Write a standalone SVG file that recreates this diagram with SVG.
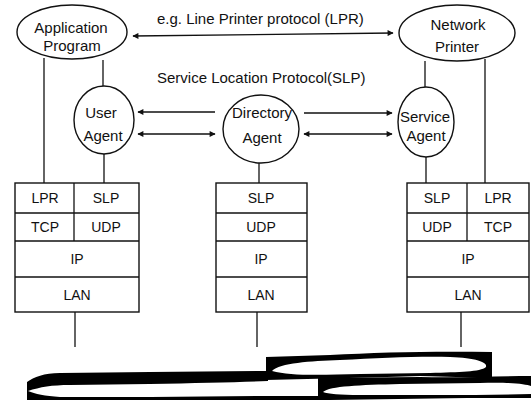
<svg xmlns="http://www.w3.org/2000/svg" width="531" height="412" viewBox="0 0 531 412">
  <defs>
    <marker id="ah" viewBox="0 0 10 10" refX="9" refY="5" markerWidth="9" markerHeight="6" markerUnits="userSpaceOnUse" orient="auto-start-reverse">
      <path d="M0,0 L10,5 L0,10 Z" fill="#111"/>
    </marker>
    <style>
      .ln { stroke: #111; stroke-width: 1.3; fill: none; }
      .nd { stroke: #111; stroke-width: 1.4; fill: #fff; }
      .bx { stroke: #111; stroke-width: 1.4; fill: #fff; }
      .t { font-family: "Liberation Sans", Arial, sans-serif; font-size: 15px; fill: #111; text-anchor: middle; }
      .s { font-family: "Liberation Sans", Arial, sans-serif; font-size: 14px; fill: #111; text-anchor: middle; }
      .lb { font-family: "Liberation Sans", Arial, sans-serif; font-size: 15px; fill: #111; }
      .ar { stroke: #111; stroke-width: 1.4; fill: none; }
    </style>
  </defs>
  <rect width="531" height="412" fill="#fff"/>

  <!-- connectors -->
  <g id="connectors">
    <!-- application / printer down to stacks -->
    <line class="ln" x1="44" y1="58" x2="44" y2="183"/>
    <line class="ln" x1="103" y1="60" x2="103" y2="86"/>
    <line class="ln" x1="104" y1="154" x2="104" y2="183"/>
    <line class="ln" x1="259" y1="163" x2="259" y2="183"/>
    <line class="ln" x1="425" y1="61" x2="425" y2="87"/>
    <line class="ln" x1="426" y1="157" x2="426" y2="183"/>
    <line class="ln" x1="485" y1="59" x2="485" y2="183"/>
    <!-- stacks down to the network -->
    <line class="ln" x1="75" y1="312" x2="75" y2="347"/>
    <line class="ln" x1="257" y1="312" x2="257" y2="347"/>
    <line class="ln" x1="461" y1="312" x2="461" y2="347"/>
    <!-- LPR -->
    <line class="ar" x1="133" y1="36" x2="393" y2="33" marker-start="url(#ah)" marker-end="url(#ah)"/>
    <!-- SLP messages -->
    <line class="ar" x1="138" y1="112" x2="215" y2="112" marker-start="url(#ah)"/>
    <line class="ar" x1="138" y1="134" x2="215" y2="134" marker-start="url(#ah)" marker-end="url(#ah)"/>
    <line class="ar" x1="304" y1="113" x2="392" y2="113" marker-end="url(#ah)"/>
    <line class="ar" x1="304" y1="134" x2="392" y2="134" marker-start="url(#ah)" marker-end="url(#ah)"/>
  </g>

  <text class="lb" x="157" y="24">e.g. Line Printer protocol (LPR)</text>
  <text class="lb" x="157" y="83">Service Location Protocol(SLP)</text>

  <g id="app">
    <ellipse class="nd" cx="72" cy="32" rx="55" ry="27"/>
    <text class="t" x="71" y="33">Application</text>
    <text class="t" x="72" y="51">Program</text>
  </g>

  <g id="printer">
    <ellipse class="nd" cx="457" cy="33" rx="58" ry="28"/>
    <text class="t" x="458" y="30">Network</text>
    <text class="t" x="457" y="52">Printer</text>
  </g>

  <g id="ua">
    <ellipse class="nd" cx="104" cy="120" rx="30" ry="34"/>
    <text class="t" x="101" y="118">User</text>
    <text class="t" x="103" y="141">Agent</text>
  </g>

  <g id="da">
    <ellipse class="nd" cx="261" cy="129" rx="38" ry="34"/>
    <text class="t" x="262" y="118">Directory</text>
    <text class="t" x="262" y="143">Agent</text>
  </g>

  <g id="sa">
    <ellipse class="nd" cx="426" cy="122" rx="28" ry="35"/>
    <text class="t" x="425" y="122">Service</text>
    <text class="t" x="426" y="141">Agent</text>
  </g>

  <!-- client protocol stack -->
  <g id="stack-client">
    <rect class="bx" x="15" y="183" width="124" height="129"/>
    <line class="ln" x1="15" y1="213" x2="139" y2="213"/>
    <line class="ln" x1="15" y1="241" x2="139" y2="241"/>
    <line class="ln" x1="15" y1="277" x2="139" y2="277"/>
    <line class="ln" x1="74" y1="183" x2="74" y2="241"/>
    <text class="s" x="45" y="203">LPR</text>
    <text class="s" x="106" y="203">SLP</text>
    <text class="s" x="45" y="232">TCP</text>
    <text class="s" x="106" y="232">UDP</text>
    <text class="s" x="77" y="264">IP</text>
    <text class="s" x="77" y="300">LAN</text>
  </g>

  <!-- directory protocol stack -->
  <g id="stack-directory">
    <rect class="bx" x="216" y="183" width="91" height="129"/>
    <line class="ln" x1="216" y1="213" x2="307" y2="213"/>
    <line class="ln" x1="216" y1="241" x2="307" y2="241"/>
    <line class="ln" x1="216" y1="277" x2="307" y2="277"/>
    <text class="s" x="261" y="203">SLP</text>
    <text class="s" x="261" y="232">UDP</text>
    <text class="s" x="261" y="264">IP</text>
    <text class="s" x="261" y="300">LAN</text>
  </g>

  <!-- printer protocol stack -->
  <g id="stack-printer">
    <rect class="bx" x="407" y="183" width="122" height="129"/>
    <line class="ln" x1="407" y1="213" x2="529" y2="213"/>
    <line class="ln" x1="407" y1="241" x2="529" y2="241"/>
    <line class="ln" x1="407" y1="277" x2="529" y2="277"/>
    <line class="ln" x1="467" y1="183" x2="467" y2="241"/>
    <text class="s" x="437" y="203">SLP</text>
    <text class="s" x="498" y="203">LPR</text>
    <text class="s" x="437" y="232">UDP</text>
    <text class="s" x="498" y="232">TCP</text>
    <text class="s" x="468" y="264">IP</text>
    <text class="s" x="468" y="300">LAN</text>
  </g>

  <!-- network cable -->
  <g id="network">
    <path fill="#000" d="M27,382 C34,377 44,373 60,373 L150,372 L268,371 L268,400 L150,400 L27,400 Z"/>
    <path fill="#fff" d="M28,391 C40,387 52,385 70,385 L150,384 C200,383 240,382 268,381 L268,396 L150,397 L60,397 C45,396 35,394 28,391 Z"/>
    <path fill="#000" d="M266,357 L330,355 C380,352 440,351 492,352 L492,378 L420,376 C380,377 320,379 266,380 Z"/>
    <path fill="#fff" d="M272,371 C280,363 310,361 340,360 C380,358 420,356 450,357 C475,358 488,362 486,367 C480,372 460,372 430,373 L360,374 C320,375 290,376 272,371 Z"/>
    <path fill="#000" d="M266,396 L318,396 L318,378 L420,377 C460,378 500,376 531,376 L531,398 L467,398 L330,400 L266,400 Z"/>
    <path fill="#fff" d="M323,392 C330,386 360,385 400,384 L480,383 C510,382 525,384 531,386 L531,394 C500,395 470,395 440,395 L360,395 C340,395 328,394 323,392 Z"/>
  </g>
</svg>
